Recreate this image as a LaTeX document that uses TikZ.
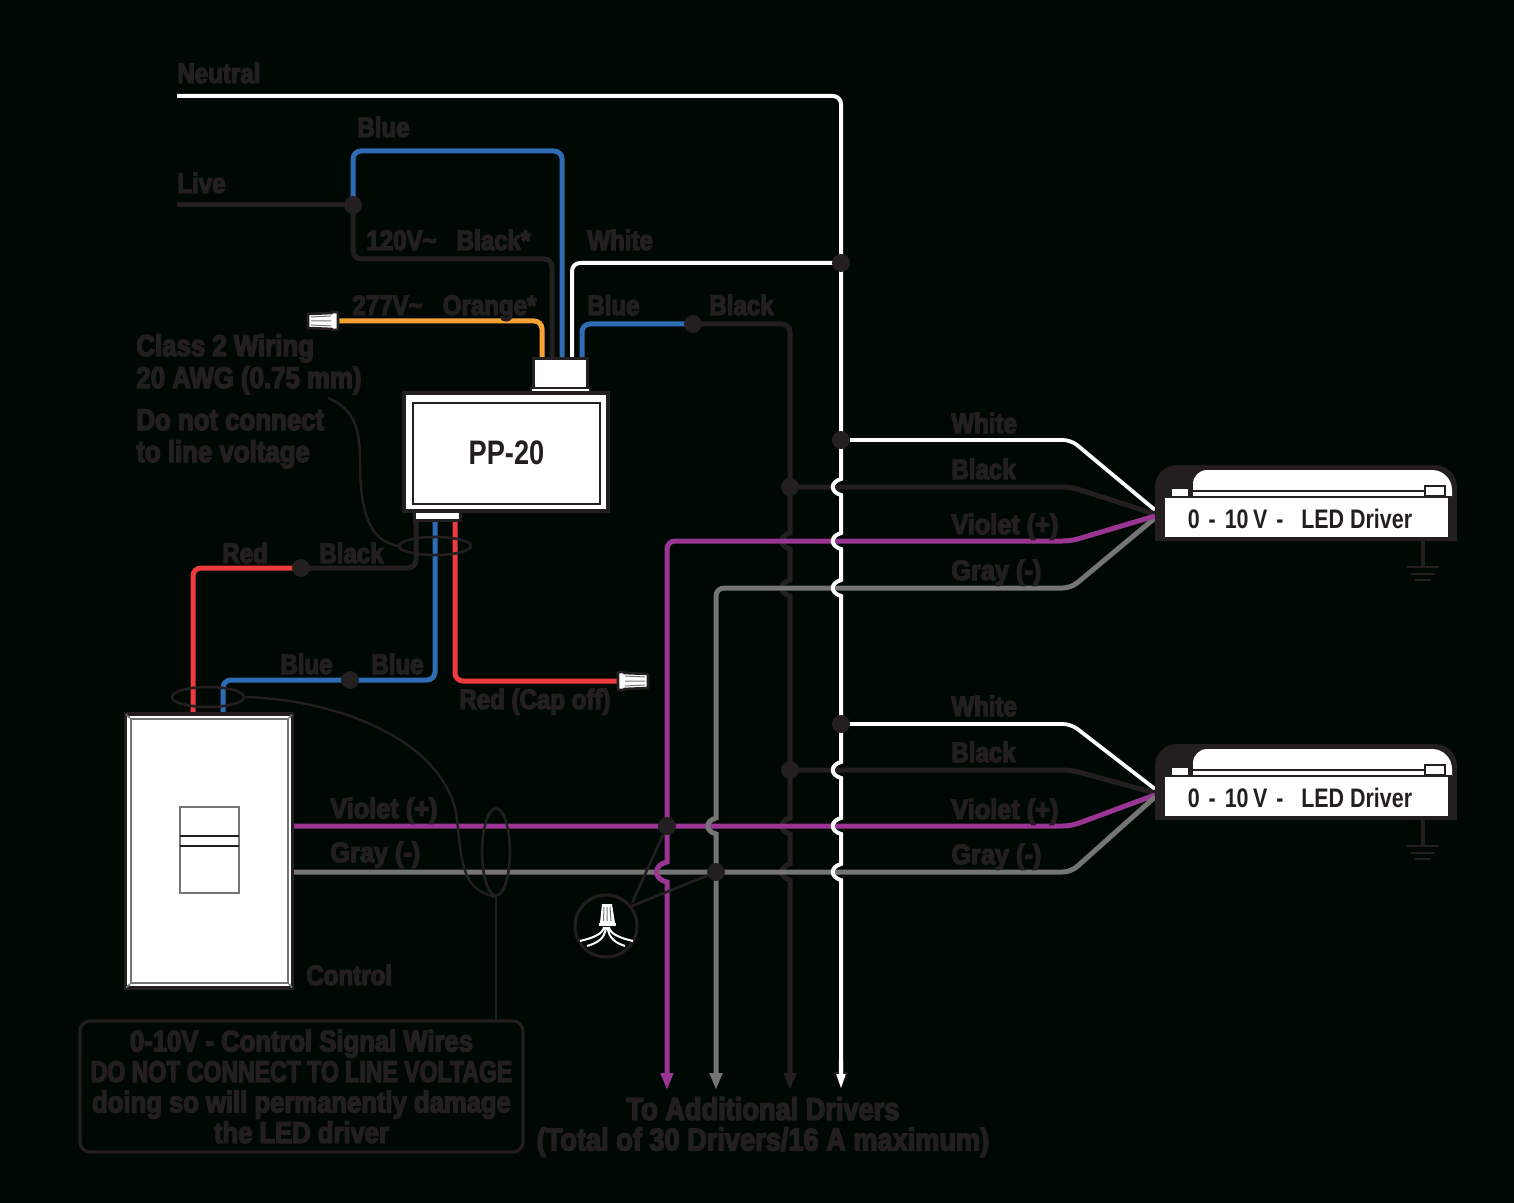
\documentclass[tikz,border=0pt]{standalone}
\usepackage{fontspec}
\usetikzlibrary{arrows.meta,backgrounds,shapes.geometric}
\newfontfamily\wirefont[FakeStretch=.86,BoldFeatures={FakeBold=4.5}]{Liberation Sans}
\newfontfamily\boxfont[FakeStretch=.8]{Liberation Sans}
\definecolor{bgdark}{HTML}{000803}
\definecolor{wirek}{HTML}{231F20}
\definecolor{wireblue}{HTML}{2E6DB4}
\definecolor{wirered}{HTML}{EF3A3E}
\definecolor{wireorange}{HTML}{F8A135}
\definecolor{wireviolet}{HTML}{9B3594}
\definecolor{wiregray}{HTML}{747574}
\tikzset{
every picture/.style={
x=0.5pt, y=-0.5pt
}}
% one wire stepping round another one
\newcommand{\hop}[2]{-- (#1,#2-8) .. controls (#1-11,#2-5) and (#1-11,#2+5) .. (#1,#2+8)}
\newcommand{\bighop}[2]{-- (#1,#2-10) .. controls (#1-14,#2-7) and (#1-14,#2+7) .. (#1,#2+10)}

\begin{document}
\begin{tikzpicture}[
wire/.style = {line width=2.5pt, rounded corners=4pt},
thinwire/.style = {line width=1.9pt, rounded corners=4pt},
lbl/.style = {anchor=base west, inner sep=0pt, text=wirek, font=\wirefont\bfseries\fontsize{14}{16}\selectfont},
lblbig/.style = {lbl, font=\wirefont\bfseries\fontsize{15}{16}\selectfont},
jn/.style = {circle, fill=wirek, inner sep=0pt, minimum size=9pt},
tie/.style = {ellipse, draw=wirek, line width=1.3pt, inner sep=0pt, fill=none},
leader/.style = {draw=wirek, line width=1.2pt},
tipv/.style = {-{Triangle[length=8.5pt,width=6pt]}},
pics/wirenut/.style = {code={
  \draw [wirek, line width=1.3pt, fill=white, line join=round] (-15,-7) -- (9,-8) -- (9,-9) -- (15,-9) -- (15,9) -- (9,9) -- (9,8) -- (-15,7) -- cycle;
  \draw [wiregray, line width=.5pt] (-12,-4) -- (8,-5) (-12,0) -- (8,0) (-12,4) -- (8,5);
}}]
\useasboundingbox (0,0) rectangle (1514,1203);

% junctions
\node [jn] (liveJ) at (353,205) {};
\node [jn] (whiteJ) at (841,263) {};
\node [jn] (blackJ) at (693,324) {};
\node [jn] (redJ) at (301,568) {};
\node [jn] (blueJ) at (350,680) {};
\node [jn] (whiteAJ) at (841,440) {};
\node [jn] (blackAJ) at (790,487) {};
\node [jn] (whiteBJ) at (841,724) {};
\node [jn] (blackBJ) at (790,770) {};
\node [jn] (violetJ) at (667,826) {};
\node [jn] (grayJ) at (716,872) {};

% free ends
\coordinate (neutralIn) at (177,96);
\coordinate (liveIn) at (177,205);
\coordinate (busEnd) at (841,1090);
\coordinate (blackEnd) at (790,1090);
\coordinate (grayEnd) at (716,1090);
\coordinate (violetEnd) at (667,1090);
\coordinate (ppTopK) at (552,360);
\coordinate (ppTopB) at (562,360);
\coordinate (ppTopW) at (572,360);
\coordinate (ppTopO) at (542,360);
\coordinate (ppTopD) at (582,360);
\coordinate (ppBotK) at (416,522);
\coordinate (ppBotB) at (435,522);
\coordinate (ppBotR) at (455,522);
\coordinate (plateR) at (193,712);
\coordinate (plateB) at (223,712);
\coordinate (plateV) at (293,826);
\coordinate (plateG) at (293,872);
\coordinate (nutO) at (339,321);
\coordinate (nutR) at (618,681);
\coordinate (drvAw) at (1155,510);
\coordinate (drvAk) at (1155,514);
\coordinate (drvAv) at (1155,516);
\coordinate (drvAg) at (1155,518);
\coordinate (drvBw) at (1155,789);
\coordinate (drvBk) at (1155,793);
\coordinate (drvBv) at (1155,795);
\coordinate (drvBg) at (1155,797);

\begin{scope}[on background layer]
\fill [bgdark] (0,0) rectangle (1514,1203);

\draw [wire, wirek] (liveIn) -- (liveJ);
\draw [wire, wireblue] (liveJ.center) -- (353,151) -- (562,151) -- (ppTopB);
\draw [wire, wirek] (liveJ.center) -- (353,259) -- (552,259) -- (ppTopK);
\draw [wire, white, line width=2pt] (ppTopW) -- (572,263) -- (whiteJ.center);
\draw [wire, wireorange] (nutO) -- (542,321) -- (ppTopO);
\draw [wire, wireblue] (ppTopD) -- (582,324) -- (blackJ.center);

% black riser goes under the others
\draw [wire, wirek, tipv] (blackJ.center) -- (790,324) [sharp corners] -- (blackAJ.center) \hop{790}{541} \hop{790}{588} -- (blackBJ.center) \hop{790}{826} \hop{790}{872} -- (blackEnd);

\draw [thinwire, white] (whiteAJ.center) -- (1071,440) -- (drvAw);
\draw [wire, wirek] (blackAJ.center) -- (1071,487) -- (drvAk);
\draw [thinwire, white] (whiteBJ.center) -- (1071,724) -- (drvBw);
\draw [wire, wirek] (blackBJ.center) -- (1071,770) -- (drvBk);
\draw [wire, wireviolet] (plateV) -- (violetJ.center) -- (1071,826) -- (drvBv);
\draw [wire, wiregray] (plateG) -- (grayJ.center) -- (1071,872) -- (drvBg);

\draw [wire, wiregray, tipv] (drvAg) -- (1071,588) -- (716,588) [sharp corners] \hop{716}{826} -- (grayJ.center) -- (grayEnd);
\draw [wire, wireviolet, tipv] (drvAv) -- (1071,541) -- (667,541) [sharp corners] -- (violetJ.center) \bighop{667}{872} -- (violetEnd);
\draw [wire, wirek, line width=3pt, -{Triangle[length=9pt,width=6.5pt]}] (841,1060) -- (busEnd);
\draw [wire, white, line width=2pt, -{Triangle[length=8pt,width=4pt]}] (neutralIn) -- (841,96) [sharp corners] -- (whiteJ.center) -- (whiteAJ.center) \hop{841}{487} \hop{841}{541} \hop{841}{588} -- (whiteBJ.center) \hop{841}{770} \hop{841}{826} \hop{841}{872} -- (busEnd);

% dimmer side
\draw [wire, wirek] (ppBotK) -- (416,568) -- (redJ.center);
\draw [wire, wirered] (redJ.center) -- (193,568) -- (plateR);
\draw [wire, wireblue] (ppBotB) -- (435,680) -- (blueJ.center);
\draw [wire, wireblue] (blueJ.center) -- (223,680) -- (plateB);
\draw [wire, wirered] (ppBotR) -- (455,681) -- (nutR);
\end{scope}

% PP-20
\node [draw=wirek, line width=1.5pt, fill=white, minimum width=27pt, minimum height=15pt, inner sep=0pt] (ppTop) at (560.5,374) {};
\node [draw=wirek, line width=1pt, fill=white, minimum width=29.5pt, minimum height=3pt, inner sep=0pt] (ppRim) at (560.5,391) {};
\node [draw=wirek, line width=1.5pt, fill=white, minimum width=23pt, minimum height=5.5pt, inner sep=0pt] (ppBot) at (437.5,515) {};
\node [draw=wirek, line width=2pt, fill=white, minimum width=102pt, minimum height=59pt, inner sep=0pt] (ppOuter) at (506,452) {};
\node [draw=wirek, line width=1pt, inner sep=0pt, minimum width=93.5pt, minimum height=50.5pt, font=\boxfont\bfseries\fontsize{17}{19}\selectfont, text=wirek] (ppBox) at (506.5,453) {PP-20};

% wire caps
\pic at (323,321) {wirenut};
\pic [xscale=-1] at (633,681) {wirenut};

% dimmer
\node [draw=wirek, line width=1.6pt, fill=white, minimum width=83.5pt, minimum height=137pt, inner sep=0pt] (plate) at (209,851) {};
\node [draw=wiregray, line width=1pt, minimum width=78.5pt, minimum height=132pt, inner sep=0pt] (plateIn) at (209.5,851) {};
\draw [wiregray, line width=.8pt, shorten <=1.5pt] (plate.north west) -- (plateIn.north west);
\draw [wiregray, line width=.8pt, shorten <=1.5pt] (plate.north east) -- (plateIn.north east);
\draw [wiregray, line width=.8pt, shorten <=1.5pt] (plate.south west) -- (plateIn.south west);
\draw [wiregray, line width=.8pt, shorten <=1.5pt] (plate.south east) -- (plateIn.south east);
\node [draw=wiregray, line width=.9pt, minimum width=29.5pt, minimum height=43pt, inner sep=0pt] (slider) at (209.5,850) {};
\draw [wirek, line width=1pt] (180,836) -- (239,836) (180,846) -- (239,846);

% ties and leaders
\node [tie, minimum width=36pt, minimum height=9pt] (tieA) at (435,546) {};
\node [tie, minimum width=36pt, minimum height=10pt] (tieB) at (208,697) {};
\node [tie, minimum width=14pt, minimum height=43.5pt] (tieC) at (496,852) {};
\draw [leader] (328,398) .. controls (352,408) and (360,425) .. (360,460) .. controls (360,510) and (368,540) .. (tieA.west);
\draw [leader] (tieB.east) .. controls (340,700) and (440,740) .. (456,812) .. controls (462,860) and (460,890) .. (tieC.south);

% driver boxes
\foreach \dy/\nm in {0/A,279/B}{
\begin{scope}[shift={(0,\dy)}]
\fill [wirek, rounded corners=11pt] (1155,541) -- (1155,465) -- (1457,465) [sharp corners] -- (1457,541) -- cycle;
\fill [white, rounded corners=7pt] (1193,497) -- (1193,470) [rounded corners=10pt] -- (1452,470) [sharp corners] -- (1452,497) -- cycle;
\fill [white] (1165,498) rectangle (1448,537);
\draw [wirek, line width=1pt] (1188,491) -- (1430,491);
\draw [wirek, line width=1pt] (1188,497) -- (1452,497);
\node [draw=wirek, line width=1pt, fill=white, minimum width=9pt, minimum height=4.5pt, inner sep=0pt] (tabL\nm) at (1179.5,492) {};
\node [draw=wirek, line width=1pt, fill=white, minimum width=10pt, minimum height=5pt, inner sep=0pt] (tabR\nm) at (1435,491) {};
\node [inner sep=0pt, text=wirek, font=\boxfont\bfseries\fontsize{13.4}{16}\selectfont] (drvLabel\nm) at (1300,519) {0\,\,-\,\,10\,V\,\,- \ \ LED Driver};
\coordinate (earthTop\nm) at (1423,541);
\coordinate (earthEnd\nm) at (1423,567);
\draw [wirek, line width=1.6pt] (earthTop\nm) -- (earthEnd\nm);
\draw [wirek, line width=1.4pt] (1407,567) -- (1439,567) (1411,574) -- (1435,574) (1415,580) -- (1431,580);
\end{scope}
}

% wire nut detail
\node [circle, draw=wirek, line width=1.5pt, minimum size=31pt, inner sep=0pt] (nutDetail) at (606,926) {};
\coordinate (nutDetailA) at (632,903);
\coordinate (nutDetailB) at (632,906);
\draw [wirek, line width=1.3pt] (violetJ) -- (nutDetailA);
\draw [wirek, line width=1.3pt] (grayJ) -- (nutDetailB);
\fill [white] (602,904) -- (612,904) -- (615,923) -- (600,923) -- cycle;
\draw [wiregray, line width=.5pt] (604,907) -- (603.5,921) (607,907) -- (607,921) (610,907) -- (611,921);
\fill [white] (599,923) rectangle (616,926);
\draw [white, line width=1pt] (604,927) .. controls (603,934) and (593,938) .. (580,941)
 (606,927) .. controls (605,939) and (597,943) .. (587,946)
 (609,927) .. controls (610,934) and (620,938) .. (633,941)
 (607.5,927) .. controls (609,939) and (616,943) .. (625,946);

% labels
\node [lbl] (lNeutral) at (177,83) {Neutral};
\node [lbl] (lBlueTop) at (357,137) {Blue};
\node [lbl] (lLive) at (177,193) {Live};
\node [lbl] (l120) at (366,250) {120V\textasciitilde\ \ \ Black*};
\node [lbl] (lWhiteTop) at (587,250) {White};
\node [lbl] (l277) at (352,315) {277V\textasciitilde\ \ \ Orange*};
\node [lbl] (lBlueD) at (587,315) {Blue};
\node [lbl] (lBlackD) at (709,315) {Black};
\node [lblbig] (lClass) at (136,356) {Class 2 Wiring};
\node [lblbig] (lAwg) at (136,388) {20 AWG (0.75 mm)};
\node [lblbig] (lNot) at (136,430) {Do not connect};
\node [lblbig] (lLine) at (136,462) {to line voltage};
\node [lbl] (lRed) at (222,563) {Red};
\node [lbl] (lBlackDim) at (319,563) {Black};
\node [lbl] (lBlueA) at (280,674) {Blue};
\node [lbl] (lBlueB) at (371,674) {Blue};
\node [lbl] (lCap) at (459,709) {Red (Cap off)};
\node [lbl] (lWhiteA) at (951,433) {White};
\node [lbl] (lBlackA) at (951,479) {Black};
\node [lbl, xscale=1.05] (lVioletA) at (951,534) {Violet (+)};
\node [lbl, xscale=1.05] (lGrayA) at (951,580) {Gray (-)};
\node [lbl] (lWhiteB) at (951,716) {White};
\node [lbl] (lBlackB) at (951,762) {Black};
\node [lbl, xscale=1.05] (lVioletB) at (951,819) {Violet (+)};
\node [lbl, xscale=1.05] (lGrayB) at (951,864) {Gray (-)};
\node [lbl, xscale=1.05] (lVioletDim) at (330,818) {Violet (+)};
\node [lbl, xscale=1.05] (lGrayDim) at (330,862) {Gray (-)};
\node [lbl] (lControl) at (306,985) {Control};

\node [draw=wirek, line width=1.6pt, rounded corners=5pt, minimum width=221.5pt, minimum height=65.5pt, inner sep=0pt, align=center, text=wirek, font=\wirefont\bfseries\fontsize{14.9}{15.25}\selectfont] (note) at (301.5,1086.5) {0-10V - Control Signal Wires\\\scalebox{.9}[1]{DO NOT CONNECT TO LINE VOLTAGE}\\doing so will permanently damage\\the LED driver};
\draw [wirek, line width=1.3pt] (tieC) -- (tieC |- note.north);

\node [inner sep=0pt, align=center, text=wirek, font=\wirefont\bfseries\fontsize{15.8}{15.25}\selectfont] (lMore) at (763,1127) {To Additional Drivers\\(Total of 30 Drivers/16 A maximum)};
\end{tikzpicture}
\end{document}
